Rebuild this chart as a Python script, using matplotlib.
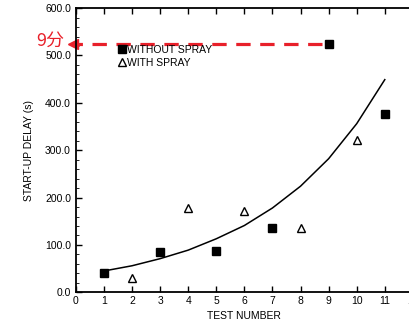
import numpy as np
from matplotlib import pyplot as plt
from matplotlib.ticker import MultipleLocator, FormatStrFormatter

# data
without_x = [1, 3, 5, 7, 9, 11]
without_y = [40, 85, 87, 135, 524, 377]
with_x    = [2, 4, 6, 8, 10]
with_y    = [30, 179, 172, 135, 321]
trend_x   = [1, 2, 3, 4, 5, 6, 7, 8, 9, 10, 11]
trend_y   = [45, 56, 71, 89, 113, 141, 178, 224, 282, 356, 449]
note_text = '9分'
note_y    = without_y[4]

plt.rcParams['font.family'] = ['Liberation Sans', 'DejaVu Sans']

fig = plt.figure(figsize=(4.1, 3.2), dpi=100)
ax  = fig.add_axes([0.185, 0.0866, 0.822, 0.888])

ax.plot(trend_x, trend_y, color='black', lw=1.1)
ax.plot(without_x, without_y, 's', color='black', ms=6, label='WITHOUT SPRAY', clip_on=False)
ax.plot(with_x, with_y, '^', mfc='white', mec='black', mew=1.0, ms=6, label='WITH SPRAY', clip_on=False)

ax.set_xlim(0, 12)
ax.set_ylim(0, 600)
ax.xaxis.set_major_locator(MultipleLocator(1))
ax.yaxis.set_major_locator(MultipleLocator(100))
ax.yaxis.set_minor_locator(MultipleLocator(20))
ax.yaxis.set_major_formatter(FormatStrFormatter('%.1f'))
ax.tick_params(direction='in', labelsize=7.5, top=True, width=1.0, length=4)
ax.tick_params(axis='x', pad=3)
ax.tick_params(which='minor', direction='in', length=2, left=True)
for s in ax.spines.values():
    s.set_linewidth(1.3)

ax.set_xlabel('TEST NUMBER', fontsize=7.5, labelpad=3)
ax.set_ylabel('START-UP DELAY (s)', fontsize=7.5, labelpad=8)

ax.legend(loc='upper left', bbox_to_anchor=(0.115, 0.885), frameon=False, fontsize=7.5,
          handlelength=0.6, handletextpad=0.2, labelspacing=0.25, borderaxespad=0)

# red dashed arrow marking the 9 minute point
ax.plot([8.75, 0.0], [note_y, note_y], color='#e8202a', lw=2.3, dashes=(4.5, 3), clip_on=False)
ax.plot([-0.1], [note_y], marker='<', color='#e8202a', ms=7, clip_on=False)
ax.text(-0.4, note_y + 8, note_text, color='#e8202a', fontsize=13, ha='right', va='center',
        family=['Noto Sans CJK SC', 'DejaVu Sans'])

fig.savefig('out.png', dpi=100)
